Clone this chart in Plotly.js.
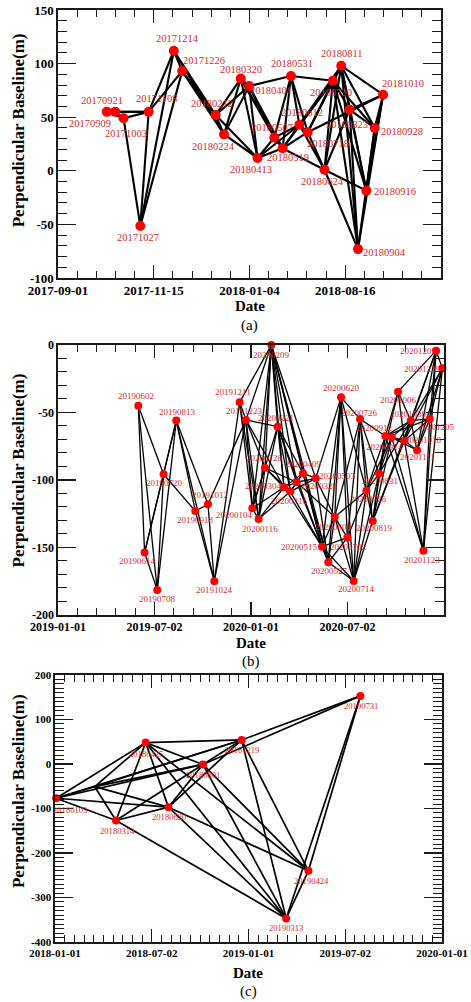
<!DOCTYPE html>
<html>
<head>
<meta charset="utf-8">
<script src="https://cdn.plot.ly/plotly-3.0.1.min.js"></script>
<style>
  html, body { margin: 0; padding: 0; background: #fff; }
  #chart { width: 471px; height: 1002px; }
</style>
</head>
<body>
<div id="chart"></div>
<script>
// ---------- (a) acquisitions ----------
const aDates = ['2017-09-09','2017-09-21','2017-10-03','2017-10-27','2017-11-08','2017-12-14','2017-12-26',
  '2018-02-12','2018-02-24','2018-03-20','2018-04-01','2018-04-13','2018-05-07','2018-05-19','2018-05-31',
  '2018-06-12','2018-06-24','2018-07-18','2018-07-30','2018-08-11','2018-08-23','2018-09-04','2018-09-16',
  '2018-09-28','2018-10-10'];
const aBaseline = [55, 55, 49, -51.5, 55, 112, 93, 52, 34, 86, 79, 12, 31, 21, 88.5, 43, 36, 1, 84, 98, 57, -73, -18.5, 40, 71];
const aLabels = ['20170909','20170921','20171003','20171027','20171108','20171214','20171226','20180212',
  '20180224','20180320','20180401','20180413','20180507','20180519','20180531','20180612','20180718',
  '20180624','20180730','20180811','20180823','20180904','20180916','20180928','20181010'];
const aPairs = [[0,1],[0,2],[1,2],[0,4],[1,4],[2,4],[2,3],[3,4],[3,5],[3,6],
  [4,5],[4,6],[5,6],[5,7],[5,8],[6,7],[6,8],
  [7,8],[7,9],[7,10],[7,11],[8,9],[8,10],[8,11],
  [9,10],[9,11],[9,12],[9,13],[10,11],[10,12],[10,13],[10,14],
  [11,12],[11,13],[11,15],[12,13],[12,14],[12,15],
  [13,14],[13,15],[13,16],[13,17],[13,18],[14,15],[14,16],[14,18],
  [15,16],[15,17],[15,18],[15,19],[16,18],[16,19],[16,24],[16,17],
  [17,18],[17,19],[17,21],[17,22],[17,20],
  [18,19],[18,20],[18,21],[18,22],[18,23],
  [19,20],[19,21],[19,22],[19,23],[19,24],
  [20,21],[20,23],[20,24],[20,22],[21,23],[22,23],[22,24],[23,24],[21,24]];
const aTickText = ['2017-09-01','2017-11-15','2018-01-04','2018-08-16','2019-03-01'];
const aYTicks = [-100, -50, 0, 50, 100, 150];

// ---------- (b) acquisitions ----------
const bDates = ['2019-06-02','2019-06-14','2019-07-08','2019-07-20','2019-08-13','2019-09-18','2019-10-12',
  '2019-10-24','2019-12-11','2019-12-23','2020-01-04','2020-01-16','2020-01-28','2020-02-09','2020-02-21',
  '2020-03-04','2020-03-16','2020-03-28','2020-04-09','2020-05-03','2020-05-15','2020-05-27','2020-06-08',
  '2020-06-20','2020-07-02','2020-07-14','2020-07-26','2020-08-07','2020-08-19','2020-08-31','2020-09-12',
  '2020-09-24','2020-10-06','2020-10-18','2020-10-30','2020-11-11','2020-11-23','2020-12-05','2020-12-17',
  '2020-12-29'];
const bBaseline = [-45, -153.8, -181.5, -95.8, -56, -123, -118, -175, -42.5, -55.5, -121, -129, -91, 0, -60.5,
  -105.4, -108.6, -101.7, -95, -98.8, -149.4, -161, -127.4, -38.8, -142.7, -174.8, -54.8, -108, -130.4, -95.3,
  -67.4, -68.4, -34.6, -70.9, -56, -78, -152.4, -54.8, -4.2, -17.3];
const bLabels = ['20190602','20190614','20190708','20190720','20190813','20190918','20191012','20191024',
  '20191211','20191223','20200104','20200116','20200128','20200209','20200221','20200304','20200316',
  '20200328','20200409','20200503','20200515','20200527','20200608','20200620','20200702','20200714',
  '20200726','20200726','20200819','20200831','20200912','20200924','20201006','20201018','20201030',
  '20201111','20201123','20201205','20201205','20201229'];
const bPairs = [[0,1],[0,2],[0,3],[1,2],[1,3],[1,4],[2,3],[2,4],[3,4],[3,5],[4,5],[4,6],[4,7],[5,6],[5,7],
  [6,7],[7,8],[7,9],[6,9],[8,9],[8,13],[8,10],[8,11],
  [9,13],[9,14],[9,10],[9,11],[9,12],[9,15],
  [10,13],[11,13],[12,13],[13,14],[13,15],[13,16],[13,17],[13,18],[13,19],[13,20],[13,21],
  [10,11],[10,12],[10,14],[11,12],[11,14],[11,15],[10,15],[11,16],
  [12,15],[12,16],[12,17],[14,15],[14,16],[14,17],[14,18],[14,20],
  [15,16],[15,17],[15,18],[16,17],[16,18],[17,18],[17,19],[18,19],[16,19],
  [15,20],[16,20],[17,21],[18,21],[19,21],[19,22],[17,22],[18,20],
  [20,21],[20,22],[21,22],[20,23],[21,23],[22,23],[20,24],[21,24],[19,23],[21,25],[20,25],
  [23,24],[23,25],[23,26],[23,27],[22,24],[22,25],[22,26],[24,25],[24,26],[25,26],[25,27],[24,27],
  [26,27],[26,28],[25,28],[25,29],[22,27],
  [27,28],[27,29],[26,29],[28,29],[28,30],[28,31],[29,30],[29,31],[29,32],[27,30],[28,33],[27,31],
  [26,30],[28,34],[29,34],
  [30,31],[30,32],[30,33],[30,34],[31,33],[31,34],[31,35],[32,34],[33,34],[33,35],[34,35],[34,37],[32,33],
  [31,36],[33,36],[30,36],[36,37],[36,38],[36,39],
  [35,37],[35,38],[35,39],[34,38],[34,39],[33,38],[33,39],[37,38],[37,39],[38,39],[32,38],[33,37],[30,37]];
const bTickText = ['2019-01-01','2019-07-02','2020-01-01','2020-07-02','2021-01-21'];
const bYTicks = [-200, -150, -100, -50, 0];

// ---------- (c) acquisitions (second entry is an unlabelled junction) ----------
const cDates = ['2018-01-03','2018-03-17','2018-04-26','2018-06-21','2018-08-03','2018-10-07','2018-12-19',
  '2019-03-13','2019-04-24','2019-07-31'];
const cBaseline = [-77, -51, -127, 48, -97, -1, 54, -347, -240, 153];
const cLabels = ['20180103','','20180314','20180425','20180620','20180801','20181219','20190313','20190424','20190731'];
const cPairs = [[0,1],[0,2],[0,3],[0,4],[0,5],[0,6],
  [1,2],[1,3],[1,4],[1,5],[1,6],
  [2,3],[2,4],[2,5],[2,7],
  [3,6],[3,4],[3,5],[3,7],[3,8],
  [4,5],[4,6],[4,7],[4,8],
  [5,6],[5,7],[5,8],[5,9],
  [6,9],[6,7],[6,8],[7,8],[7,9],[8,9]];
const cTickText = ['2018-01-01','2018-07-02','2019-01-01','2019-07-02','2020-01-01'];
const cYTicks = [-400, -300, -200, -100, 0, 100, 200];

// label offsets from each dot, in screen pixels (right, down)
const aLabelDx = [-17,-13,2,-2,8,4,22,-4,-11,0,22,-7,-2,5,1,3,20,-2,-2,1,-3,27,29,27,20];
const aLabelDy = [12,-11,15,11,-13,-12,-11,-12,12,-9,4,12,-10,9,-12,-12,11,12,12,-12,15,3,1,4,-11];
const bLabelDx = [-2,-7,0,1,1,0,2,0,-7,-1,-18,1,0,0,-2,-21,-1,23,0,22,-23,1,-1,0,1,3,-1,2,2,1,-11,-7,0,19,-2,0,-1,7,-18,-20];
const bLabelDy = [-10,8,9,9,-9,9,-9,9,-10,-9,7,10,-10,10,-9,-1,9,4,-9,-2,0,9,10,-9,9,8,-6,8,7,7,-8,10,8,-1,-7,7,9,8,0,1];
const cLabelDx = [14,0,2,0,1,0,0,0,3,1];
const cLabelDy = [12,0,10,11,10,11,10,10,10,10];

const FONT = 'Liberation Serif, Times New Roman, serif';
const INK = '#1a1a1a';
const RED = '#ff0000';
const LABEL_RED = '#d42a2a';

function dateAt(range, f) {
  const t0 = Date.parse(range[0] + 'T00:00:00Z');
  const t1 = Date.parse(range[1] + 'T00:00:00Z');
  return new Date(t0 + f * (t1 - t0)).toISOString().replace('T', ' ').slice(0, 19);
}

function edgeTrace(dates, vals, pairs, xa, ya, width) {
  const x = [], y = [];
  pairs.forEach(([i, j]) => {
    x.push(dates[i], dates[j], null);
    y.push(vals[i], vals[j], null);
  });
  return { type: 'scatter', mode: 'lines', x, y, xaxis: xa, yaxis: ya,
    line: { color: '#000', width }, hoverinfo: 'skip', connectgaps: false };
}

function dotTrace(dates, vals, labels, xa, ya, size) {
  const x = [], y = [];
  labels.forEach((t, i) => { if (t) { x.push(dates[i]); y.push(vals[i]); } });
  return { type: 'scatter', mode: 'markers', x, y, xaxis: xa, yaxis: ya, cliponaxis: false,
    marker: { color: RED, size, line: { width: 0 } }, hoverinfo: 'skip' };
}

function labelNotes(dates, vals, labels, dx, dy, xa, ya, size) {
  const out = [];
  labels.forEach((t, i) => {
    if (!t) return;
    out.push({ xref: xa, yref: ya, x: dates[i], y: vals[i], text: t, showarrow: false,
      xshift: dx[i], yshift: -dy[i], xanchor: 'center', yanchor: 'middle',
      font: { family: FONT, size, color: LABEL_RED } });
  });
  return out;
}

function xAxis(range, domain, anchor, tickText, size, nMinor, edgeMajors) {
  const fr = [0, 0.25, 0.5, 0.75, 1];
  const vals = fr.map(f => dateAt(range, f));
  const text = tickText.slice();
  if (edgeMajors) {
    vals.push(dateAt(range, 0.05), dateAt(range, 0.95));
    text.push('', '');
  }
  const minorVals = [];
  for (let k = 1; k < nMinor; k++) minorVals.push(dateAt(range, k / nMinor));
  return {
    type: 'date', range: [dateAt(range, 0), dateAt(range, 1)], domain, anchor,
    tickmode: 'array', tickvals: vals, ticktext: text,
    ticks: 'inside', ticklen: 13, tickwidth: 1.2, tickcolor: INK,
    mirror: 'ticks', showline: true, linecolor: INK, linewidth: 1.6,
    showgrid: false, zeroline: false, fixedrange: true, automargin: false,
    tickfont: { family: FONT, size, color: '#000', weight: 'bold' },
    minor: { tickmode: 'array', tickvals: minorVals, ticks: 'inside', ticklen: 7,
      tickwidth: 1, tickcolor: INK, showgrid: false }
  };
}

function yAxis(range, domain, anchor, tickVals, size) {
  return {
    type: 'linear', range, domain, anchor,
    tickmode: 'array', tickvals: tickVals, ticktext: tickVals.map(v => String(v)),
    ticks: 'inside', ticklen: 18, tickwidth: 1.2, tickcolor: INK,
    mirror: 'ticks', showline: true, linecolor: INK, linewidth: 1.6,
    showgrid: false, zeroline: false, fixedrange: true, automargin: false,
    tickfont: { family: FONT, size, color: '#000', weight: 'bold' },
    minor: { dtick: 10, tick0: 0, ticks: 'inside', ticklen: 9, tickwidth: 1,
      tickcolor: INK, showgrid: false }
  };
}

const aRange = ['2017-07-01', '2019-01-01'];
const bRange = ['2019-01-01', '2021-01-01'];
const cRange = ['2018-01-01', '2020-01-01'];

const data = [
  edgeTrace(aDates, aBaseline, aPairs, 'x', 'y', 2.1),
  dotTrace(aDates, aBaseline, aLabels, 'x', 'y', 10),
  edgeTrace(bDates, bBaseline, bPairs, 'x2', 'y2', 1.3),
  dotTrace(bDates, bBaseline, bLabels, 'x2', 'y2', 8),
  edgeTrace(cDates, cBaseline, cPairs, 'x3', 'y3', 1.7),
  dotTrace(cDates, cBaseline, cLabels, 'x3', 'y3', 8)
];

function textNote(x, y, text, size, bold, angle) {
  return { xref: 'paper', yref: 'paper', x, y, text, showarrow: false,
    xanchor: 'center', yanchor: 'middle', textangle: angle || 0,
    font: { family: FONT, size, color: '#000', weight: bold ? 'bold' : 'normal' } };
}

const annotations = [].concat(
  labelNotes(aDates, aBaseline, aLabels, aLabelDx, aLabelDy, 'x', 'y', 10.5),
  labelNotes(bDates, bBaseline, bLabels, bLabelDx, bLabelDy, 'x2', 'y2', 9),
  labelNotes(cDates, cBaseline, cLabels, cLabelDx, cLabelDy, 'x3', 'y3', 8.6),
  [
    textNote(-0.095, 0.871, 'Perpendicular Baseline(m)', 17, true, -90),
    textNote(-0.095, 0.506, 'Perpendicular Baseline(m)', 17, true, -90),
    textNote(-0.095, 0.162, 'Perpendicular Baseline(m)', 17, true, -90),
    textNote(0.50, 0.6824, 'Date', 15, true),
    textNote(0.504, 0.3208, 'Date', 15, true),
    textNote(0.497, -0.0333, 'Date', 15, true),
    textNote(0.50, 0.662, '(a)', 15, false),
    textNote(0.504, 0.3015, '(b)', 15, false),
    textNote(0.497, -0.0536, '(c)', 15, false)
  ]
);

const layout = {
  width: 471, height: 1002,
  margin: { l: 55, r: 27, t: 10, b: 60 },
  paper_bgcolor: '#fff', plot_bgcolor: '#fff',
  showlegend: false, hovermode: false,
  xaxis: xAxis(aRange, [0.0077, 0.9923], 'y', aTickText, 13, 20, true),
  yaxis: yAxis([-100, 150], [0.7124, 1], 'x', aYTicks, 13),
  xaxis2: xAxis(bRange, [0.0077, 1], 'y2', bTickText, 12, 20, true),
  yaxis2: yAxis([-200, 0], [0.3509, 0.6406], 'x2', bYTicks, 12),
  xaxis3: xAxis(cRange, [0, 0.9949], 'y3', cTickText, 11, 40, false),
  yaxis3: yAxis([-400, 200], [0, 0.2865], 'x3', cYTicks, 11),
  annotations
};

Plotly.newPlot('chart', data, layout, { staticPlot: true, displayModeBar: false });
</script>
</body>
</html>
